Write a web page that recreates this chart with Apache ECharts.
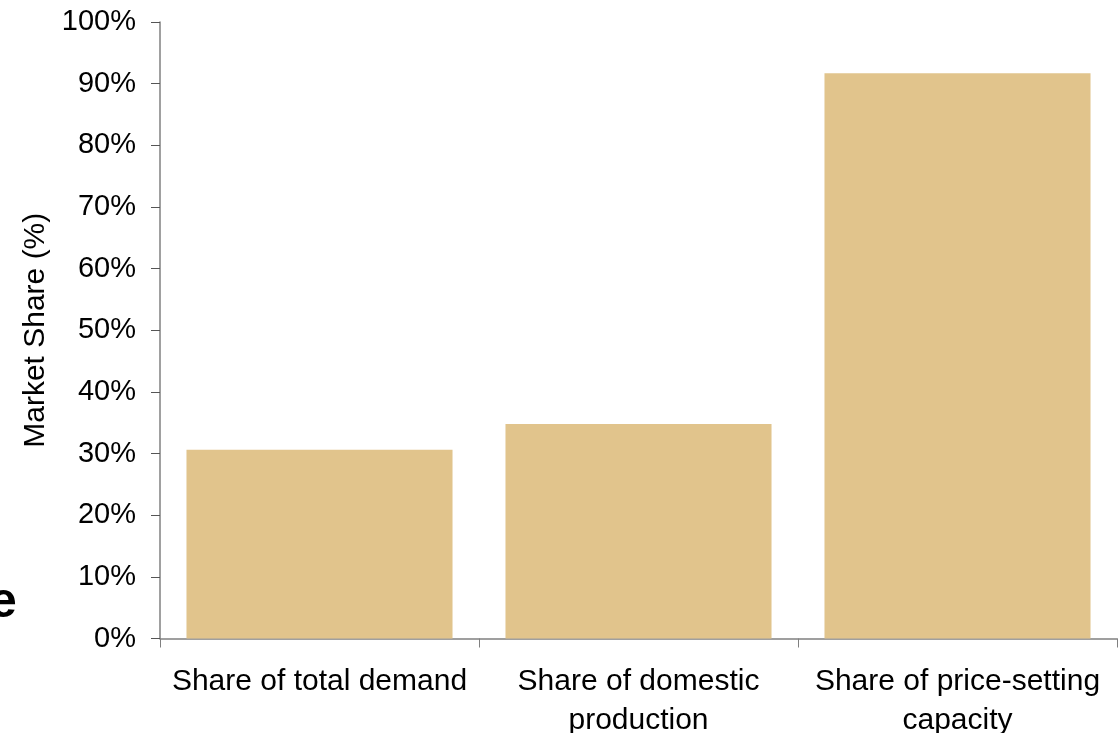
<!DOCTYPE html>
<html>
<head>
<meta charset="utf-8">
<script src="https://cdn.jsdelivr.net/npm/echarts@6/dist/echarts.min.js"></script>
<style>
html,body{margin:0;padding:0;background:#fff;}
#chart{width:1120px;height:733px;}
</style>
</head>
<body>
<div id="chart"></div>
<script>
const categories = ['Share of total demand', 'Share of domestic\nproduction', 'Share of price-setting\ncapacity'];
const shareValues = [30.6, 34.8, 91.7];
const yTicks = { min: 0, max: 100, interval: 10 };
const yAxisTitle = 'Market Share (%)';
const cutText = 'e';

const chart = echarts.init(document.getElementById('chart'), null, { renderer: 'canvas' });
const FONT = '"Liberation Sans", Arial, sans-serif';
const axisGray = '#808080';

chart.setOption({
  animation: false,
  backgroundColor: '#ffffff',
  grid: { left: 160, right: 3, top: 22, bottom: 94.5, containLabel: false, outerBoundsMode: 'none' },
  xAxis: {
    type: 'category',
    data: categories,
    axisLine: { show: true, lineStyle: { color: axisGray, width: 1.5 } },
    axisTick: { show: true, alignWithLabel: false, length: 9, lineStyle: { color: axisGray, width: 1 } },
    axisLabel: { color: '#000', fontFamily: FONT, fontSize: 30, margin: 24, lineHeight: 38.5, interval: 0 },
    splitLine: { show: false }
  },
  yAxis: {
    type: 'value',
    min: yTicks.min, max: yTicks.max, interval: yTicks.interval,
    name: yAxisTitle,
    nameLocation: 'middle',
    nameGap: 94,
    nameTextStyle: { color: '#000', fontFamily: FONT, fontSize: 30 },
    axisLine: { show: true, lineStyle: { color: axisGray, width: 1.5 } },
    axisTick: { show: true, length: 9, lineStyle: { color: '#555', width: 1 } },
    axisLabel: { color: '#000', fontFamily: FONT, fontSize: 29, margin: 24, formatter: v => v + '%' },
    splitLine: { show: false }
  },
  series: [{
    type: 'bar',
    data: shareValues,
    barCategoryGap: '16.6%',
    itemStyle: { color: '#E1C48C' },
    emphasis: { disabled: true }
  }],
  graphic: [{
    type: 'text',
    left: -11,
    top: 578,
    style: { text: cutText, font: 'bold 50px ' + FONT, fill: '#000' }
  }]
});
</script>
</body>
</html>
